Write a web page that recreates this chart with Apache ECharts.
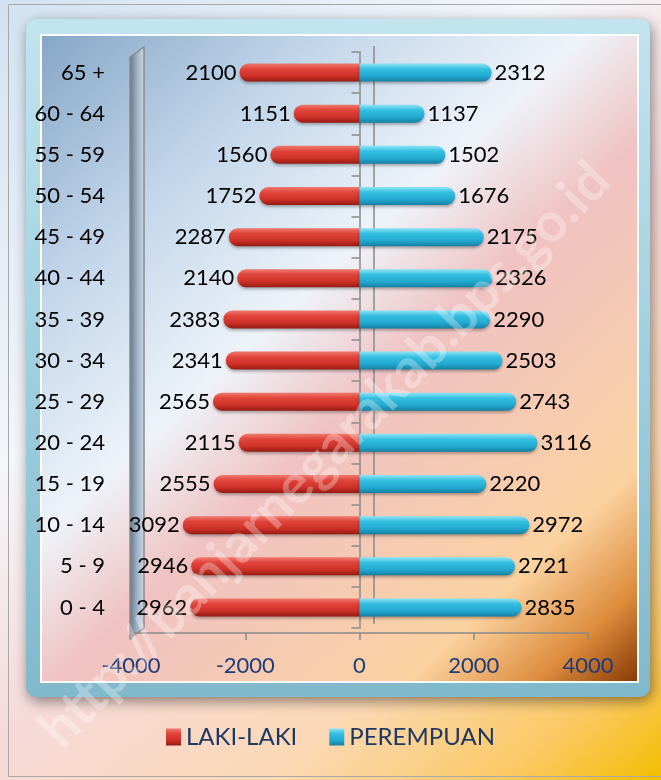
<!DOCTYPE html>
<html>
<head>
<meta charset="utf-8">
<script src="https://cdn.jsdelivr.net/npm/echarts@6/dist/echarts.min.js"></script>
<style>html,body{margin:0;padding:0;background:#fff}#c{width:661px;height:780px}</style>
</head>
<body>
<div id="c"></div>
<script>
const categories = ['0 - 4','5 - 9','10 - 14','15 - 19','20 - 24','25 - 29','30 - 34','35 - 39','40 - 44','45 - 49','50 - 54','55 - 59','60 - 64','65 +'];
const lakiLaki = [2962,2946,3092,2555,2115,2565,2341,2383,2140,2287,1752,1560,1151,2100];
const perempuan = [2835,2721,2972,2220,3116,2743,2503,2290,2326,2175,1676,1502,1137,2312];
const seriesNames = ['LAKI-LAKI','PEREMPUAN'];
const xMin = -4000, xMax = 4000, xStep = 2000;
const watermark = 'http://banjarnegarakab.bps.go.id';

const FONT = 'Lato, "Open Sans", sans-serif';
const lg = (stops, x2, y2) => new echarts.graphic.LinearGradient(0,0,x2,y2, stops.map(s=>({offset:s[0],color:s[1]})));
const redGrad = lg([[0,'#f07a6e'],[0.3,'#e0443a'],[0.7,'#cc3026'],[1,'#951a12']],0,1);
const cyanGrad = lg([[0,'#8fe4f6'],[0.3,'#34bfe0'],[0.7,'#22a8cf'],[1,'#157fa2']],0,1);

const gridLeft = 131, gridRight = 73;
const zeroOffset = -((661 - gridLeft - gridRight) / 2);

const chart = echarts.init(document.getElementById('c'));
chart.setOption({
  animation:false,
  graphic:[
    {type:'rect', z:-20, shape:{x:0,y:0,width:661,height:780}, style:{fill:lg([[0,'#d2e2f2'],[0.35,'#f4f6fa'],[0.55,'#f6dada'],[0.75,'#fbd9b6'],[0.9,'#fbc964'],[1,'#f3bd00']],1,1)}},
    {type:'rect', z:-19, shape:{x:8.5,y:4.5,width:660,height:772}, style:{fill:'none',stroke:'#a8a8a8',lineWidth:1}},
    {type:'rect', z:-18, shape:{x:26,y:19,width:624,height:678,r:10}, style:{fill:lg([[0,'#c2e4ef'],[0.5,'#9fd0e0'],[1,'#80b8cc']],0,1),shadowBlur:14,shadowColor:'rgba(0,0,0,0.45)',shadowOffsetX:2,shadowOffsetY:4}},
    {type:'rect', z:-17, shape:{x:41,y:35,width:597,height:647}, style:{fill:lg([[0,'#86a6c6'],[0.22,'#c2d6ea'],[0.42,'#eef3f9'],[0.55,'#f0c2c2'],[0.7,'#f6cbb2'],[0.82,'#fbd2a0'],[0.92,'#dd8c3c'],[1,'#853804']],1,1),stroke:'#ffffff',lineWidth:2}},
    {type:'polygon', z:-16, shape:{points:[[130,57],[144,47],[144,628],[130,638]]}, style:{fill:lg([[0,'#5f7286'],[0.5,'#9fb2c4'],[1,'#d0dce8']],1,0),stroke:'#8a8a8a',lineWidth:1.5}},
    {type:'line', z:-16, shape:{x1:374,y1:46,x2:374,y2:624}, style:{stroke:'#8a8a8a',lineWidth:1.5}},
    {type:'text', z:100, x:325, y:455, rotation:0.8, style:{text:watermark, font:'bold 55px '+FONT, fill:'rgba(255,255,255,0.3)', align:'center', verticalAlign:'middle', textAlign:'center', textVerticalAlign:'middle'}}
  ],
  legend:{
    data:seriesNames, left:'center', top:720, itemWidth:15, itemHeight:17, itemGap:32, icon:'rect',
    textStyle:{fontSize:24, color:'#1f3864', fontFamily:FONT}
  },
  grid:{left:gridLeft, right:gridRight, top:52, bottom:152},
  xAxis:{
    type:'value', min:xMin, max:xMax, interval:xStep, offset:5,
    axisLine:{show:true, onZero:false, lineStyle:{color:'#8a8a8a', width:1.5}},
    axisTick:{show:true, length:7, lineStyle:{color:'#8a8a8a', width:1.5}},
    axisLabel:{fontSize:22, color:'#1f3c78', margin:22, fontFamily:FONT, formatter:v=>String(v)},
    splitLine:{show:false}
  },
  yAxis:[
    {type:'category', data:categories, axisLine:{show:false}, axisTick:{show:false},
     axisLabel:{fontSize:22, color:'#000', margin:26, fontFamily:FONT}},
    {type:'category', data:categories, position:'left', offset:zeroOffset,
     axisLine:{show:true, onZero:false, lineStyle:{color:'#8a8a8a', width:1.5}},
     axisTick:{show:true, length:8, lineStyle:{color:'#8a8a8a', width:1.5}}, axisLabel:{show:false}}
  ],
  series:[
    {name:seriesNames[0], type:'bar', stack:'t', data:lakiLaki.map(v=>-v), barWidth:18, z:3,
     itemStyle:{color:redGrad, borderRadius:[9,0,0,9], shadowBlur:3, shadowColor:'rgba(0,0,0,0.3)', shadowOffsetY:2},
     label:{show:true, position:'left', distance:3, formatter:p=>Math.abs(p.value), fontSize:22, color:'#000', fontFamily:FONT}},
    {name:seriesNames[1], type:'bar', stack:'t', data:perempuan, barWidth:18, z:3,
     itemStyle:{color:cyanGrad, borderRadius:[0,9,9,0], shadowBlur:3, shadowColor:'rgba(0,0,0,0.3)', shadowOffsetY:2},
     label:{show:true, position:'right', distance:3, fontSize:22, color:'#000', fontFamily:FONT}}
  ]
});
</script>
</body>
</html>
